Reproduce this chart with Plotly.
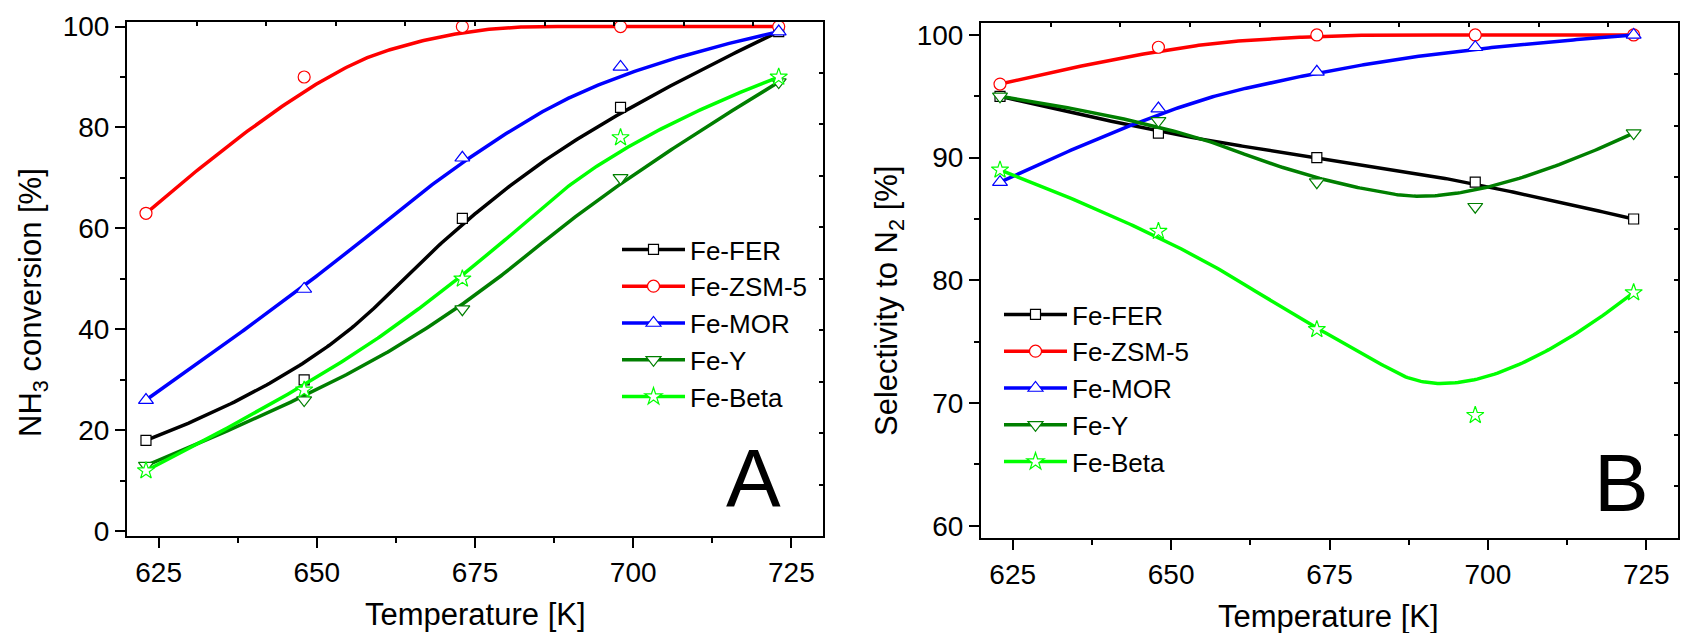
import numpy as np
import plotly.graph_objects as go

# Reaction temperatures [K]
temperature = [623, 648, 673, 698, 723]

catalysts = ["Fe-FER", "Fe-ZSM-5", "Fe-MOR", "Fe-Y", "Fe-Beta"]

# (A) NH3 conversion [%]
conv_fer = [18, 30, 62, 84, 99]
conv_zsm5 = [63, 90, 100, 100, 100]
conv_mor = [26, 48, 74, 92, 99]
conv_y = [13, 26, 44, 70, 89]
conv_beta = [12, 28, 50, 78, 90]

# (B) Selectivity to N2 [%]
sel_fer = [95, 92, 90, 88, 85]
sel_zsm5 = [96, 99, 100, 100, 100]
sel_mor = [88, 94, 97, 99, 100]
sel_y = [95, 93, 88, 86, 92]
sel_beta = [89, 84, 76, 69, 79]

colors = ["#000000", "#ff0000", "#0000ff", "#007f00", "#00ff00"]
symbols = ["square", "circle", "triangle-up", "triangle-down", "star"]
msizes = [10, 12, 13, 13, 13]

FONT = "Arial, Liberation Sans, sans-serif"
W, H = 1683, 633


def bspline(cx, cy, p=2, n=240):
    """Clamped B-spline using the measured points as control points."""
    cx = np.asarray(cx, float)
    cy = np.asarray(cy, float)
    m = len(cx)
    inner = np.linspace(0, 1, m - p + 1)
    knots = np.concatenate([np.zeros(p), inner, np.ones(p)])
    xs, ys = [], []
    for t in np.linspace(0, 1, n):
        k = min(np.searchsorted(knots, t, side="right") - 1, m - 1)
        d = [np.array([cx[j], cy[j]]) for j in range(k - p, k + 1)]
        for r in range(1, p + 1):
            for j in range(p, r - 1, -1):
                i = j + k - p
                den = knots[i + p - r + 1] - knots[i]
                a = 0.0 if den == 0 else (t - knots[i]) / den
                d[j] = (1 - a) * d[j - 1] + a * d[j]
        xs.append(d[p][0])
        ys.append(d[p][1])
    return xs, ys


def gapped(vals):
    out = []
    for v in vals:
        out += [v, None]
    return out[:-1]


fig = go.Figure()

panels = [
    ("x", "y", "legend", [conv_fer, conv_zsm5, conv_mor, conv_y, conv_beta]),
    ("x2", "y2", "legend2", [sel_fer, sel_zsm5, sel_mor, sel_y, sel_beta]),
]

for xa, ya, leg, series in panels:
    for name, vals, col, sym, ms in zip(catalysts, series, colors, symbols, msizes):
        cxs, cys = bspline(temperature, vals)
        fig.add_trace(go.Scatter(
            x=cxs, y=cys, mode="lines", xaxis=xa, yaxis=ya,
            line=dict(color=col, width=3.5), showlegend=False, hoverinfo="skip",
        ))
        fig.add_trace(go.Scatter(
            x=gapped(temperature), y=gapped(vals), mode="lines+markers",
            xaxis=xa, yaxis=ya, name=name, legend=leg, connectgaps=False,
            line=dict(color=col, width=3.5),
            marker=dict(symbol=sym, size=ms, color="white",
                        line=dict(color=col, width=1.2)),
        ))

# empty traces that hold the frame axes (top / right)
fig.add_trace(go.Scatter(x=[None], y=[None], xaxis="x3", yaxis="y3", showlegend=False))
fig.add_trace(go.Scatter(x=[None], y=[None], xaxis="x4", yaxis="y4", showlegend=False))

tick_font = dict(family=FONT, size=28, color="black")


def px_x(v):
    return v / W


def px_y(v):
    return 1 - v / H


def bottom_axis(domain, anchor):
    return dict(
        domain=domain, anchor=anchor, range=[620, 730], autorange=False,
        automargin=False,
        tickmode="linear", tick0=625, dtick=25,
        ticks="outside", ticklen=10, tickwidth=2, tickcolor="black",
        minor=dict(tick0=625, dtick=12.5, ticks="outside", ticklen=5,
                   tickwidth=2, tickcolor="black"),
        showline=True, linewidth=2, linecolor="black",
        showgrid=False, zeroline=False, tickfont=tick_font,
    )


def left_axis(domain, anchor, rng, major, minor):
    return dict(
        domain=domain, anchor=anchor, range=rng, autorange=False,
        automargin=False,
        tickmode="linear", tick0=0, dtick=major,
        ticks="outside", ticklen=10, tickwidth=2, tickcolor="black",
        minor=dict(tick0=0, dtick=minor, ticks="outside", ticklen=5,
                   tickwidth=2, tickcolor="black"),
        showline=True, linewidth=2, linecolor="black",
        showgrid=False, zeroline=False, tickfont=tick_font,
    )


def frame_axis(overlay, anchor, side):
    return dict(
        overlaying=overlay, anchor=anchor, side=side, range=[0, 10],
        autorange=False, automargin=False,
        tickmode="linear", tick0=0, dtick=1,
        ticks="inside", ticklen=4, tickwidth=1.5, tickcolor="black",
        showticklabels=False, showline=True, linewidth=2, linecolor="black",
        showgrid=False, zeroline=False, fixedrange=True,
    )


dom_xa = [px_x(127), px_x(823)]
dom_ya = [px_y(536.3), px_y(21.5)]
dom_xb = [px_x(981), px_x(1678)]
dom_yb = [px_y(538), px_y(22.7)]

legend_style = dict(
    font=dict(family=FONT, size=26, color="black"),
    bgcolor="rgba(0,0,0,0)", borderwidth=0,
    xanchor="left", yanchor="top", itemwidth=63,
    tracegroupgap=0,
)

title_font = dict(family=FONT, size=31, color="black")

annotations = [
    dict(text="Temperature [K]", x=px_x(475), y=px_y(614), xref="paper", yref="paper",
         showarrow=False, font=title_font, xanchor="center", yanchor="middle"),
    dict(text="Temperature [K]", x=px_x(1328), y=px_y(616), xref="paper", yref="paper",
         showarrow=False, font=title_font, xanchor="center", yanchor="middle"),
    dict(text="NH<sub>3</sub> conversion [%]", x=px_x(33), y=px_y(303), xref="paper",
         yref="paper", showarrow=False, textangle=-90, font=title_font,
         xanchor="center", yanchor="middle"),
    dict(text="Selectivity to N<sub>2</sub> [%]", x=px_x(889), y=px_y(301), xref="paper",
         yref="paper", showarrow=False, textangle=-90, font=title_font,
         xanchor="center", yanchor="middle"),
    dict(text="A", x=px_x(753), y=px_y(477), xref="paper", yref="paper",
         showarrow=False, font=dict(family=FONT, size=82, color="black"),
         xanchor="center", yanchor="middle"),
    dict(text="B", x=px_x(1621), y=px_y(482), xref="paper", yref="paper",
         showarrow=False, font=dict(family=FONT, size=82, color="black"),
         xanchor="center", yanchor="middle"),
]

fig.update_layout(
    width=W, height=H,
    margin=dict(l=0, r=0, t=0, b=0, pad=0, autoexpand=False),
    paper_bgcolor="white", plot_bgcolor="white",
    font=dict(family=FONT, color="black"),
    xaxis=bottom_axis(dom_xa, "y"),
    yaxis=left_axis(dom_ya, "x", [-1, 101], 20, 10),
    xaxis2=bottom_axis(dom_xb, "y2"),
    yaxis2=left_axis(dom_yb, "x2", [59, 101], 10, 5),
    xaxis3=frame_axis("x", "y3", "top"),
    yaxis3=frame_axis("y", "x3", "right"),
    xaxis4=frame_axis("x2", "y4", "top"),
    yaxis4=frame_axis("y2", "x4", "right"),
    legend=dict(x=px_x(617), y=px_y(226), **legend_style),
    legend2=dict(x=px_x(999), y=px_y(291), **legend_style),
    annotations=annotations,
    showlegend=True,
)

fig.write_html("out.html")
